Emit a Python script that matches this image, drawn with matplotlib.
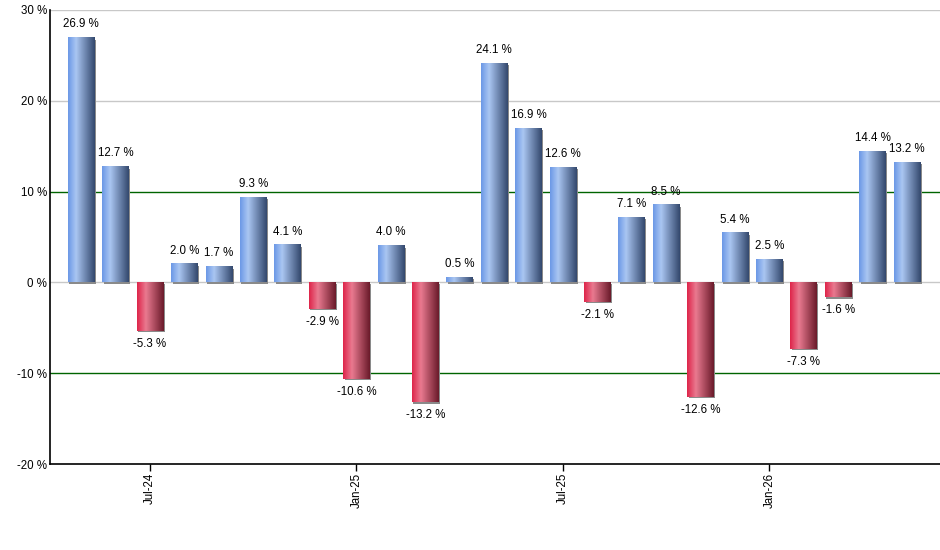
import numpy as np
import matplotlib.pyplot as plt
import matplotlib.transforms as mtransforms
from matplotlib.colors import LinearSegmentedColormap
from matplotlib.patches import Rectangle

plt.rcParams['font.family'] = ['Liberation Sans', 'DejaVu Sans']

# Monthly returns, May-24 .. May-26
months = ['May-24', 'Jun-24', 'Jul-24', 'Aug-24', 'Sep-24', 'Oct-24', 'Nov-24',
          'Dec-24', 'Jan-25', 'Feb-25', 'Mar-25', 'Apr-25', 'May-25', 'Jun-25',
          'Jul-25', 'Aug-25', 'Sep-25', 'Oct-25', 'Nov-25', 'Dec-25', 'Jan-26',
          'Feb-26', 'Mar-26', 'Apr-26', 'May-26']
returns = [26.9, 12.7, -5.3, 2.0, 1.7, 9.3, 4.1, -2.9, -10.6, 4.0, -13.2, 0.5,
           24.1, 16.9, 12.6, -2.1, 7.1, 8.5, -12.6, 5.4, 2.5, -7.3, -1.6, 14.4, 13.2]
yticks = [-20, -10, 0, 10, 20, 30]

blue = LinearSegmentedColormap.from_list('blue', [(0.0, '#6b98e6'), (0.3, '#aac6f2'),
                                                  (1.0, '#33486d')])
red = LinearSegmentedColormap.from_list('red', [(0.0, '#de2449'), (0.33, '#e97a90'),
                                                (1.0, '#6a1a2a')])

fig, ax = plt.subplots(figsize=(9.4, 5.5), dpi=100)
fig.subplots_adjust(left=0.053, right=1.0, top=0.982, bottom=0.156)

x = np.arange(len(returns))
bars = ax.bar(x, returns, width=0.77, color='none', zorder=3)

grad = np.linspace(0, 1, 128).reshape(1, -1)
shadow_tr = mtransforms.offset_copy(ax.transData, fig=fig, x=1.5, y=-1.5, units='dots')
for b, v in zip(bars, returns):
    x0, y0 = b.get_x(), b.get_y()
    w, h = b.get_width(), b.get_height()
    ax.add_patch(Rectangle((x0, y0), w, h, facecolor='#8a8a8a', edgecolor='none',
                           transform=shadow_tr, zorder=2))
    ax.imshow(grad, cmap=blue if v >= 0 else red, aspect='auto',
              extent=(x0, x0 + w, y0, y0 + h), zorder=3, interpolation='bilinear')
    if v >= 0:
        ax.annotate(f'{v:.1f} %', (x0 + w / 2, v), xytext=(0, 5.5), textcoords='offset points',
                    ha='center', va='bottom', fontsize=8.3)
    else:
        ax.annotate(f'{v:.1f} %', (x0 + w / 2, v), xytext=(0, -5), textcoords='offset points',
                    ha='center', va='top', fontsize=8.3)

# grid lines: green at +-10, grey elsewhere
for t in yticks[1:]:
    ax.axhline(t, color='#006400' if abs(t) == 10 else '#c8c8c8', lw=1, zorder=1)

ax.set_xlim(-0.91, 24.96)
ax.set_ylim(-20, 30)
ax.set_yticks(yticks)
ax.set_yticklabels([f'{t} %' for t in yticks], fontsize=8.3)
tick_idx = [i for i, m in enumerate(months) if m[:3] in ('Jan', 'Jul')]
ax.set_xticks(tick_idx)
ax.set_xticklabels([months[i] for i in tick_idx], rotation=90, fontsize=8.3)
ax.tick_params(axis='x', length=5, width=1, pad=1)
ax.tick_params(axis='y', length=0, pad=2)

for s in ['top', 'right']:
    ax.spines[s].set_visible(False)
for s in ['left', 'bottom']:
    ax.spines[s].set_linewidth(1.2)

fig.savefig('out.png', dpi=100)
